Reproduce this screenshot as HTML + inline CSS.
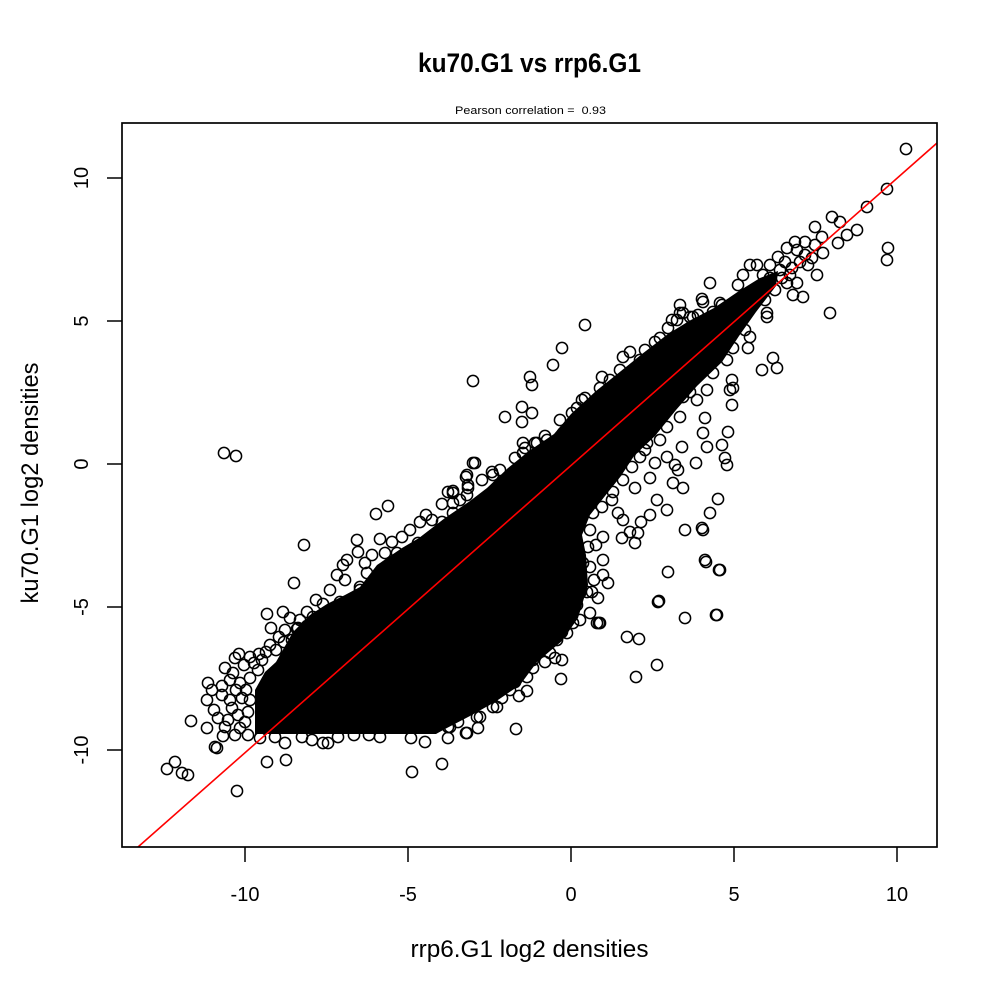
<!DOCTYPE html>
<html><head><meta charset="utf-8"><style>
html,body{margin:0;padding:0;background:#fff;}
svg{display:block;}
circle{fill:none;stroke:#000;stroke-width:1.5;}
text{font-family:"Liberation Sans",Arial,sans-serif;fill:#000;}
</style></head><body>
<svg width="1000" height="1000" viewBox="0 0 1000 1000" xmlns="http://www.w3.org/2000/svg">
<rect width="1000" height="1000" fill="#fff"/>
<defs><clipPath id="pc"><rect x="122" y="123" width="815" height="724"/></clipPath></defs>
<g clip-path="url(#pc)">
<polygon fill="#000" points="255,734 255,690 265,672 276,662 293,632 310,615 327,604 345,595 360,587 377,565 402,548 419,538 445,518 470,501 487,488 508,468 529,451 554,434 571,414 596,391 621,371 642,354 668,334 689,321 714,308 739,291 760,278 778,271 776,286 756,312 739,336 722,362 697,386 676,410 655,436 634,456 621,476 605,496 590,515 582,535 586,555 588,585 578,618 562,641 537,662 520,685 495,702 470,716 445,729 436,734"/>
<g>
<circle cx="224" cy="453" r="5.6"/><circle cx="236" cy="456" r="5.6"/>
<circle cx="304" cy="545" r="5.6"/><circle cx="294" cy="583" r="5.6"/>
<circle cx="267" cy="614" r="5.6"/><circle cx="283" cy="612" r="5.6"/><circle cx="307" cy="612" r="5.6"/><circle cx="271" cy="628" r="5.6"/><circle cx="285" cy="630" r="5.6"/><circle cx="297" cy="629" r="5.6"/><circle cx="307" cy="626" r="5.6"/><circle cx="284" cy="642" r="5.6"/><circle cx="298" cy="628" r="5.6"/><circle cx="270" cy="645" r="5.6"/><circle cx="262" cy="660" r="5.6"/><circle cx="276" cy="650" r="5.6"/><circle cx="290" cy="618" r="5.6"/><circle cx="266" cy="652" r="5.6"/><circle cx="279" cy="637" r="5.6"/><circle cx="292" cy="640" r="5.6"/><circle cx="300" cy="620" r="5.6"/><circle cx="313" cy="617" r="5.6"/>
<circle cx="239" cy="654" r="5.6"/><circle cx="235" cy="658" r="5.6"/><circle cx="259" cy="654" r="5.6"/><circle cx="225" cy="668" r="5.6"/><circle cx="254" cy="663" r="5.6"/><circle cx="258" cy="670" r="5.6"/><circle cx="208" cy="683" r="5.6"/><circle cx="222" cy="686" r="5.6"/><circle cx="233" cy="673" r="5.6"/><circle cx="240" cy="683" r="5.6"/><circle cx="207" cy="700" r="5.6"/><circle cx="230" cy="700" r="5.6"/><circle cx="242" cy="698" r="5.6"/><circle cx="232" cy="708" r="5.6"/><circle cx="218" cy="718" r="5.6"/><circle cx="191" cy="721" r="5.6"/><circle cx="207" cy="728" r="5.6"/><circle cx="223" cy="736" r="5.6"/><circle cx="240" cy="728" r="5.6"/><circle cx="217" cy="748" r="5.6"/><circle cx="215" cy="747" r="5.6"/>
<circle cx="246" cy="690" r="5.6"/><circle cx="248" cy="712" r="5.6"/><circle cx="245" cy="722" r="5.6"/><circle cx="228" cy="720" r="5.6"/><circle cx="236" cy="690" r="5.6"/><circle cx="250" cy="678" r="5.6"/><circle cx="214" cy="710" r="5.6"/><circle cx="225" cy="727" r="5.6"/><circle cx="248" cy="735" r="5.6"/><circle cx="260" cy="738" r="5.6"/>
<circle cx="244" cy="665" r="5.6"/><circle cx="230" cy="680" r="5.6"/><circle cx="250" cy="700" r="5.6"/><circle cx="238" cy="715" r="5.6"/><circle cx="222" cy="695" r="5.6"/><circle cx="212" cy="690" r="5.6"/><circle cx="250" cy="657" r="5.6"/><circle cx="235" cy="735" r="5.6"/>
<circle cx="175" cy="762" r="5.6"/><circle cx="167" cy="769" r="5.6"/><circle cx="182" cy="773" r="5.6"/><circle cx="188" cy="775" r="5.6"/><circle cx="237" cy="791" r="5.6"/>
<circle cx="267" cy="762" r="5.6"/><circle cx="286" cy="760" r="5.6"/><circle cx="275" cy="737" r="5.6"/><circle cx="285" cy="743" r="5.6"/><circle cx="302" cy="737" r="5.6"/><circle cx="312" cy="740" r="5.6"/><circle cx="323" cy="743" r="5.6"/><circle cx="328" cy="743" r="5.6"/><circle cx="338" cy="737" r="5.6"/><circle cx="354" cy="735" r="5.6"/><circle cx="369" cy="735" r="5.6"/><circle cx="380" cy="737" r="5.6"/><circle cx="411" cy="738" r="5.6"/><circle cx="425" cy="742" r="5.6"/><circle cx="412" cy="772" r="5.6"/><circle cx="442" cy="764" r="5.6"/><circle cx="448" cy="738" r="5.6"/><circle cx="466" cy="733" r="5.6"/><circle cx="478" cy="728" r="5.6"/><circle cx="480" cy="717" r="5.6"/><circle cx="493" cy="707" r="5.6"/><circle cx="490" cy="692" r="5.6"/><circle cx="497" cy="687" r="5.6"/><circle cx="448" cy="727" r="5.6"/><circle cx="450" cy="727" r="5.6"/><circle cx="467" cy="733" r="5.6"/><circle cx="477" cy="717" r="5.6"/><circle cx="480" cy="700" r="5.6"/><circle cx="497" cy="707" r="5.6"/><circle cx="502" cy="698" r="5.6"/><circle cx="503" cy="687" r="5.6"/><circle cx="515" cy="682" r="5.6"/><circle cx="527" cy="677" r="5.6"/><circle cx="533" cy="668" r="5.6"/><circle cx="533" cy="660" r="5.6"/><circle cx="555" cy="658" r="5.6"/><circle cx="550" cy="653" r="5.6"/><circle cx="557" cy="640" r="5.6"/><circle cx="562" cy="632" r="5.6"/><circle cx="573" cy="623" r="5.6"/><circle cx="580" cy="620" r="5.6"/><circle cx="590" cy="613" r="5.6"/><circle cx="577" cy="605" r="5.6"/><circle cx="567" cy="593" r="5.6"/><circle cx="587" cy="592" r="5.6"/><circle cx="516" cy="729" r="5.6"/><circle cx="527" cy="691" r="5.6"/><circle cx="519" cy="696" r="5.6"/><circle cx="562" cy="660" r="5.6"/><circle cx="561" cy="679" r="5.6"/>
<circle cx="376" cy="514" r="5.6"/><circle cx="388" cy="506" r="5.6"/><circle cx="357" cy="540" r="5.6"/><circle cx="380" cy="539" r="5.6"/><circle cx="402" cy="537" r="5.6"/><circle cx="392" cy="542" r="5.6"/><circle cx="358" cy="552" r="5.6"/><circle cx="347" cy="560" r="5.6"/><circle cx="343" cy="565" r="5.6"/><circle cx="337" cy="575" r="5.6"/><circle cx="345" cy="580" r="5.6"/><circle cx="365" cy="563" r="5.6"/><circle cx="367" cy="573" r="5.6"/><circle cx="360" cy="587" r="5.6"/><circle cx="420" cy="522" r="5.6"/><circle cx="426" cy="515" r="5.6"/><circle cx="442" cy="522" r="5.6"/><circle cx="442" cy="504" r="5.6"/><circle cx="466" cy="477" r="5.6"/><circle cx="473" cy="463" r="5.6"/><circle cx="492" cy="472" r="5.6"/><circle cx="448" cy="492" r="5.6"/><circle cx="453" cy="491" r="5.6"/><circle cx="468" cy="488" r="5.6"/><circle cx="467" cy="495" r="5.6"/><circle cx="453" cy="503" r="5.6"/><circle cx="453" cy="513" r="5.6"/><circle cx="418" cy="543" r="5.6"/><circle cx="385" cy="553" r="5.6"/><circle cx="397" cy="553" r="5.6"/><circle cx="323" cy="604" r="5.6"/><circle cx="340" cy="602" r="5.6"/><circle cx="360" cy="590" r="5.6"/>
<circle cx="316" cy="600" r="5.6"/><circle cx="330" cy="590" r="5.6"/><circle cx="372" cy="555" r="5.6"/><circle cx="410" cy="530" r="5.6"/><circle cx="432" cy="520" r="5.6"/><circle cx="460" cy="500" r="5.6"/><circle cx="482" cy="480" r="5.6"/><circle cx="500" cy="470" r="5.6"/><circle cx="515" cy="458" r="5.6"/><circle cx="545" cy="436" r="5.6"/><circle cx="560" cy="420" r="5.6"/><circle cx="585" cy="398" r="5.6"/><circle cx="600" cy="388" r="5.6"/><circle cx="640" cy="360" r="5.6"/><circle cx="655" cy="342" r="5.6"/>
<circle cx="473" cy="381" r="5.6"/><circle cx="585" cy="325" r="5.6"/><circle cx="562" cy="348" r="5.6"/><circle cx="553" cy="365" r="5.6"/><circle cx="530" cy="377" r="5.6"/><circle cx="532" cy="385" r="5.6"/><circle cx="522" cy="407" r="5.6"/><circle cx="532" cy="413" r="5.6"/><circle cx="522" cy="422" r="5.6"/><circle cx="505" cy="417" r="5.6"/><circle cx="523" cy="443" r="5.6"/><circle cx="537" cy="443" r="5.6"/><circle cx="475" cy="463" r="5.6"/><circle cx="467" cy="475" r="5.6"/>
<circle cx="453" cy="493" r="5.6"/><circle cx="468" cy="485" r="5.6"/><circle cx="493" cy="475" r="5.6"/><circle cx="525" cy="448" r="5.6"/><circle cx="535" cy="443" r="5.6"/><circle cx="523" cy="453" r="5.6"/><circle cx="547" cy="440" r="5.6"/><circle cx="563" cy="433" r="5.6"/><circle cx="572" cy="413" r="5.6"/><circle cx="577" cy="408" r="5.6"/><circle cx="582" cy="400" r="5.6"/><circle cx="593" cy="403" r="5.6"/><circle cx="602" cy="377" r="5.6"/><circle cx="610" cy="380" r="5.6"/><circle cx="623" cy="357" r="5.6"/><circle cx="630" cy="352" r="5.6"/><circle cx="645" cy="350" r="5.6"/><circle cx="660" cy="338" r="5.6"/><circle cx="668" cy="328" r="5.6"/><circle cx="677" cy="320" r="5.6"/><circle cx="680" cy="313" r="5.6"/><circle cx="690" cy="317" r="5.6"/><circle cx="698" cy="315" r="5.6"/><circle cx="713" cy="312" r="5.6"/><circle cx="660" cy="355" r="5.6"/><circle cx="630" cy="382" r="5.6"/><circle cx="620" cy="370" r="5.6"/>
<circle cx="680" cy="305" r="5.6"/><circle cx="703" cy="302" r="5.6"/><circle cx="722" cy="305" r="5.6"/><circle cx="767" cy="317" r="5.6"/><circle cx="750" cy="337" r="5.6"/><circle cx="748" cy="348" r="5.6"/><circle cx="773" cy="358" r="5.6"/><circle cx="777" cy="368" r="5.6"/><circle cx="762" cy="370" r="5.6"/><circle cx="732" cy="380" r="5.6"/><circle cx="733" cy="388" r="5.6"/><circle cx="730" cy="390" r="5.6"/><circle cx="732" cy="405" r="5.6"/><circle cx="705" cy="418" r="5.6"/><circle cx="703" cy="433" r="5.6"/><circle cx="728" cy="432" r="5.6"/><circle cx="707" cy="447" r="5.6"/><circle cx="722" cy="445" r="5.6"/><circle cx="682" cy="447" r="5.6"/><circle cx="667" cy="457" r="5.6"/><circle cx="696" cy="463" r="5.6"/><circle cx="725" cy="458" r="5.6"/><circle cx="727" cy="465" r="5.6"/><circle cx="675" cy="465" r="5.6"/><circle cx="678" cy="470" r="5.6"/><circle cx="650" cy="478" r="5.6"/><circle cx="655" cy="463" r="5.6"/><circle cx="673" cy="483" r="5.6"/><circle cx="683" cy="488" r="5.6"/><circle cx="635" cy="488" r="5.6"/><circle cx="657" cy="500" r="5.6"/><circle cx="667" cy="510" r="5.6"/><circle cx="718" cy="499" r="5.6"/><circle cx="710" cy="513" r="5.6"/><circle cx="650" cy="515" r="5.6"/><circle cx="618" cy="513" r="5.6"/><circle cx="623" cy="520" r="5.6"/><circle cx="641" cy="522" r="5.6"/><circle cx="685" cy="530" r="5.6"/><circle cx="702" cy="528" r="5.6"/><circle cx="703" cy="530" r="5.6"/><circle cx="630" cy="532" r="5.6"/><circle cx="638" cy="533" r="5.6"/><circle cx="622" cy="538" r="5.6"/><circle cx="635" cy="543" r="5.6"/><circle cx="603" cy="537" r="5.6"/><circle cx="603" cy="560" r="5.6"/><circle cx="705" cy="560" r="5.6"/><circle cx="720" cy="570" r="5.6"/><circle cx="668" cy="572" r="5.6"/><circle cx="603" cy="575" r="5.6"/><circle cx="658" cy="602" r="5.6"/><circle cx="685" cy="618" r="5.6"/><circle cx="717" cy="615" r="5.6"/><circle cx="600" cy="623" r="5.6"/><circle cx="627" cy="637" r="5.6"/><circle cx="639" cy="639" r="5.6"/>
<circle cx="733" cy="348" r="5.6"/><circle cx="727" cy="360" r="5.6"/><circle cx="713" cy="373" r="5.6"/><circle cx="707" cy="390" r="5.6"/><circle cx="697" cy="400" r="5.6"/><circle cx="683" cy="397" r="5.6"/><circle cx="680" cy="417" r="5.6"/><circle cx="667" cy="427" r="5.6"/><circle cx="660" cy="440" r="5.6"/><circle cx="647" cy="443" r="5.6"/><circle cx="640" cy="457" r="5.6"/><circle cx="632" cy="467" r="5.6"/><circle cx="623" cy="480" r="5.6"/><circle cx="613" cy="492" r="5.6"/><circle cx="602" cy="507" r="5.6"/><circle cx="593" cy="513" r="5.6"/><circle cx="590" cy="530" r="5.6"/><circle cx="588" cy="547" r="5.6"/><circle cx="583" cy="563" r="5.6"/><circle cx="590" cy="567" r="5.6"/><circle cx="577" cy="587" r="5.6"/><circle cx="580" cy="593" r="5.6"/><circle cx="570" cy="607" r="5.6"/><circle cx="560" cy="620" r="5.6"/><circle cx="597" cy="623" r="5.6"/><circle cx="567" cy="633" r="5.6"/>
<circle cx="596" cy="545" r="5.6"/><circle cx="598" cy="598" r="5.6"/><circle cx="594" cy="580" r="5.6"/><circle cx="545" cy="662" r="5.6"/><circle cx="510" cy="690" r="5.6"/><circle cx="458" cy="722" r="5.6"/><circle cx="612" cy="500" r="5.6"/><circle cx="645" cy="450" r="5.6"/><circle cx="690" cy="392" r="5.6"/><circle cx="745" cy="330" r="5.6"/>
<circle cx="706" cy="562" r="5.6"/><circle cx="719" cy="570" r="5.6"/><circle cx="659" cy="601" r="5.6"/><circle cx="716" cy="615" r="5.6"/><circle cx="657" cy="665" r="5.6"/><circle cx="636" cy="677" r="5.6"/><circle cx="608" cy="583" r="5.6"/><circle cx="592" cy="592" r="5.6"/><circle cx="599" cy="623" r="5.6"/>
<circle cx="906" cy="149" r="5.6"/><circle cx="887" cy="189" r="5.6"/><circle cx="867" cy="207" r="5.6"/><circle cx="832" cy="217" r="5.6"/><circle cx="840" cy="222" r="5.6"/><circle cx="815" cy="227" r="5.6"/><circle cx="857" cy="230" r="5.6"/><circle cx="847" cy="235" r="5.6"/><circle cx="822" cy="237" r="5.6"/><circle cx="838" cy="243" r="5.6"/><circle cx="805" cy="242" r="5.6"/><circle cx="795" cy="242" r="5.6"/><circle cx="797" cy="250" r="5.6"/><circle cx="787" cy="248" r="5.6"/><circle cx="823" cy="253" r="5.6"/><circle cx="817" cy="275" r="5.6"/><circle cx="808" cy="265" r="5.6"/><circle cx="888" cy="248" r="5.6"/><circle cx="887" cy="260" r="5.6"/><circle cx="830" cy="313" r="5.6"/><circle cx="778" cy="257" r="5.6"/><circle cx="770" cy="265" r="5.6"/><circle cx="750" cy="265" r="5.6"/><circle cx="757" cy="265" r="5.6"/><circle cx="710" cy="283" r="5.6"/><circle cx="743" cy="275" r="5.6"/><circle cx="738" cy="285" r="5.6"/><circle cx="793" cy="295" r="5.6"/><circle cx="803" cy="297" r="5.6"/><circle cx="797" cy="283" r="5.6"/><circle cx="787" cy="283" r="5.6"/><circle cx="702" cy="299" r="5.6"/><circle cx="720" cy="303" r="5.6"/><circle cx="672" cy="320" r="5.6"/><circle cx="683" cy="313" r="5.6"/><circle cx="693" cy="317" r="5.6"/><circle cx="767" cy="313" r="5.6"/><circle cx="765" cy="300" r="5.6"/>
<circle cx="780" cy="270" r="5.6"/><circle cx="790" cy="275" r="5.6"/><circle cx="775" cy="290" r="5.6"/><circle cx="760" cy="290" r="5.6"/><circle cx="812" cy="258" r="5.6"/><circle cx="800" cy="262" r="5.6"/><circle cx="785" cy="262" r="5.6"/><circle cx="770" cy="278" r="5.6"/>
<circle cx="782" cy="278" r="5.6"/><circle cx="792" cy="268" r="5.6"/><circle cx="805" cy="255" r="5.6"/><circle cx="815" cy="245" r="5.6"/><circle cx="763" cy="275" r="5.6"/>
</g>
<line x1="138" y1="847" x2="937" y2="143" stroke="#ff0000" stroke-width="1.6"/>
</g>
<rect x="122" y="123" width="815" height="724" fill="none" stroke="#000" stroke-width="1.7"/>
<g stroke="#000" stroke-width="1.5">
<line x1="245" y1="847" x2="245" y2="862"/><line x1="408" y1="847" x2="408" y2="862"/><line x1="571" y1="847" x2="571" y2="862"/><line x1="734" y1="847" x2="734" y2="862"/><line x1="897" y1="847" x2="897" y2="862"/>
<line x1="107" y1="178" x2="122" y2="178"/><line x1="107" y1="321" x2="122" y2="321"/><line x1="107" y1="464" x2="122" y2="464"/><line x1="107" y1="607" x2="122" y2="607"/><line x1="107" y1="750" x2="122" y2="750"/>
</g>
<g font-size="20" text-anchor="middle">
<text x="245" y="901">-10</text><text x="408" y="901">-5</text><text x="571" y="901">0</text><text x="734" y="901">5</text><text x="897" y="901">10</text>
<text transform="translate(88,178) rotate(-90)">10</text>
<text transform="translate(88,321) rotate(-90)">5</text>
<text transform="translate(88,464) rotate(-90)">0</text>
<text transform="translate(88,607) rotate(-90)">-5</text>
<text transform="translate(88,750) rotate(-90)">-10</text>
</g>
<text x="529.5" y="72" font-size="27" font-weight="bold" text-anchor="middle" textLength="223" lengthAdjust="spacingAndGlyphs">ku70.G1 vs rrp6.G1</text>
<text x="530.5" y="114" font-size="11" text-anchor="middle" textLength="151" lengthAdjust="spacingAndGlyphs" xml:space="preserve">Pearson correlation =  0.93</text>
<text x="529.5" y="957" font-size="24" text-anchor="middle" textLength="238" lengthAdjust="spacingAndGlyphs">rrp6.G1 log2 densities</text>
<text transform="translate(38,483) rotate(-90)" font-size="24" text-anchor="middle" textLength="241" lengthAdjust="spacingAndGlyphs">ku70.G1 log2 densities</text>
</svg>
</body></html>
